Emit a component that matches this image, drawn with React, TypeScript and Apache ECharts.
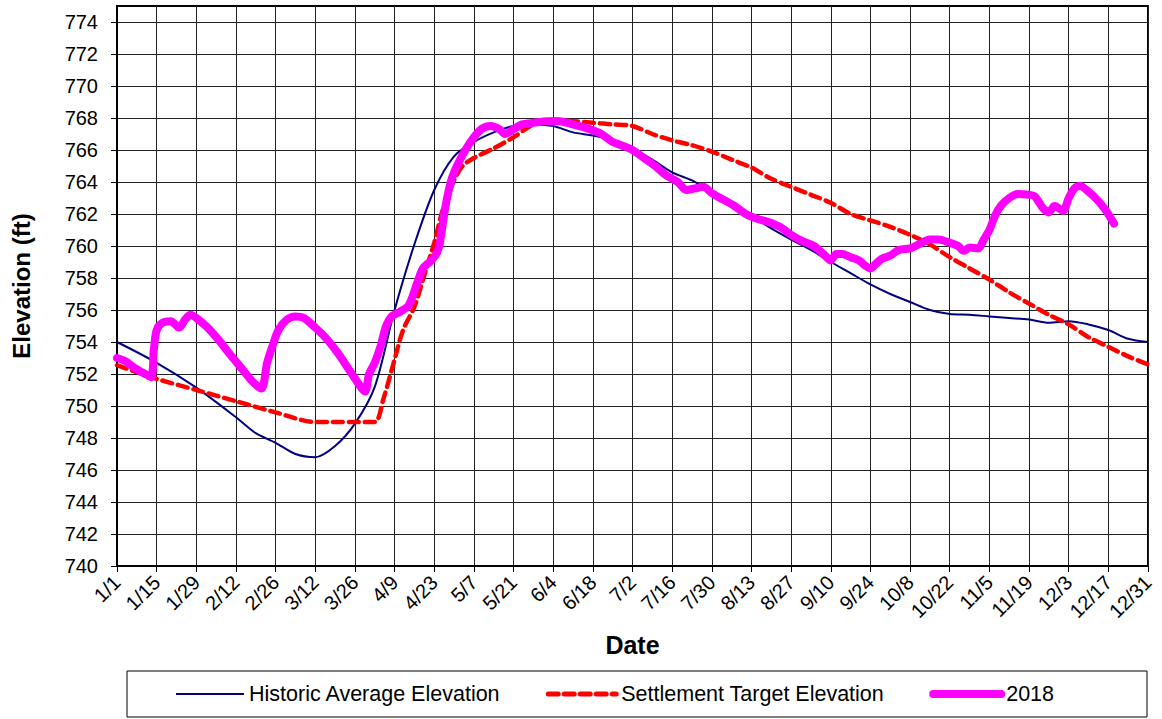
import React, { useEffect, useRef } from "react";
import * as echarts from "echarts";

const dateTickLabels = ["1/1","1/15","1/29","2/12","2/26","3/12","3/26","4/9","4/23","5/7","5/21","6/4","6/18","7/2","7/16","7/30","8/13","8/27","9/10","9/24","10/8","10/22","11/5","11/19","12/3","12/17","12/31"];
const elevationTicks = [740,742,744,746,748,750,752,754,756,758,760,762,764,766,768,770,772,774];

// day of year (0 = 1/1)
const historicDays = [0,14,28,42,49,56,63,70,77,84,91,98,105,112,119,126,133,140,147,154,161,168,175,182,189,196,203,210,217,224,231,238,245,252,259,266,273,280,287,294,301,308,315,322,329,336,343,350,357,364];
const historicValues = [754.0,752.7,751.15,749.3,748.3,747.7,747.0,746.8,747.5,748.9,751.2,756.0,760.1,763.5,765.6,766.5,767.1,767.5,767.6,767.5,767.1,766.9,766.6,766.1,765.4,764.6,764.1,763.4,762.7,761.9,761.1,760.4,759.75,759.0,758.3,757.6,757.0,756.5,756.0,755.75,755.7,755.6,755.5,755.4,755.2,755.3,755.1,754.75,754.2,754.0];

const targetDays = [0,14,28,42,56,70,77,84,91,94,98,101,105,108,112,115,119,122,126,133,140,147,154,161,168,175,182,189,196,203,210,217,224,231,238,245,252,259,266,273,280,287,294,301,308,315,322,329,336,343,350,357,364];
const targetValues = [752.55,751.7,751.0,750.3,749.6,749.0,749.0,749.0,749.0,750.4,752.9,754.75,756.2,757.9,760.2,762.25,764.1,765.0,765.5,766.1,766.8,767.6,767.9,767.8,767.7,767.6,767.5,767.0,766.6,766.3,765.9,765.4,764.9,764.2,763.7,763.2,762.7,762.0,761.6,761.2,760.7,760.1,759.3,758.6,757.9,757.1,756.4,755.7,755.1,754.3,753.7,753.1,752.6];

const y2018Days = [0,3,6,9,12,13,14,16,19,22,24,26,28,32,36,40,44,48,51,53,55,57,60,63,66,70,74,78,82,86,87.6,89,91,93,95,97,100,103,106,108,111,113,114,116,118,120,123,126,129,132,135,137,140,143,147,152,156,161,166,171,175,178,182,186,190,194,198,201,204,207,210,214,218,222,226,230,234,238,242,246,250,252,254,256,259,262,264,266,268,270,273,276,280,283,287,290,294,297,299,301,304,306,308,310,312,315,318,322,324,327,329,331,334,336,338,340,343,346,349,352];
const y2018Values = [753.0,752.8,752.4,752.1,751.8,753.5,754.75,755.2,755.3,754.9,755.4,755.7,755.5,754.9,754.1,753.2,752.35,751.5,751.1,752.7,753.8,754.75,755.4,755.6,755.5,754.9,754.2,753.3,752.25,751.2,750.9,752.0,752.7,753.7,755.0,755.6,755.9,756.3,757.7,758.6,759.1,759.6,760.2,762.5,764.1,765.0,766.0,766.8,767.35,767.5,767.3,767.0,767.3,767.6,767.7,767.8,767.8,767.6,767.35,767.0,766.5,766.3,766.0,765.5,765.0,764.4,764.0,763.5,763.6,763.7,763.3,762.9,762.5,762.0,761.7,761.5,761.2,760.7,760.3,760.0,759.4,759.1,759.5,759.5,759.3,759.1,758.8,758.6,758.9,759.2,759.4,759.75,759.85,760.1,760.4,760.4,760.2,760.0,759.7,759.9,759.85,760.4,761.0,761.9,762.5,763.0,763.25,763.2,763.1,762.35,762.1,762.5,762.2,763.0,763.6,763.75,763.4,762.9,762.25,761.4];

const seriesNames = ["Historic Average Elevation", "Settlement Target Elevation", "2018"];

const zip = (xs: number[], ys: number[]) => xs.map((x, i) => [x, ys[i]]);

export default function App() {
  const ref = useRef<HTMLDivElement>(null);
  useEffect(() => {
    if (!ref.current) return;
    const chart = echarts.init(ref.current, undefined, { renderer: "svg" });
    const font = "Arial, 'Liberation Sans', sans-serif";
    chart.setOption({
      animation: false,
      backgroundColor: "#ffffff",
      textStyle: { fontFamily: font, color: "#000" },
      grid: {
        left: 117, right: 14, top: 6, bottom: 153,
        show: true, borderColor: "#000", borderWidth: 2, backgroundColor: "transparent",
      },
      xAxis: {
        type: "value",
        min: 0, max: 364, interval: 14,
        name: "Date",
        nameLocation: "middle",
        nameGap: 66,
        nameTextStyle: { fontSize: 25, fontWeight: "bold", fontFamily: font, color: "#000" },
        axisLine: { show: true, lineStyle: { color: "#000", width: 2 } },
        axisTick: { show: true, length: 6, lineStyle: { color: "#000", width: 1 } },
        axisLabel: {
          rotate: 45, fontSize: 20, color: "#000", fontFamily: font, margin: 13,
          formatter: (v: number) => dateTickLabels[Math.round(v / 14)] ?? "",
        },
        splitLine: { show: true, lineStyle: { color: "#222", width: 1 } },
      },
      yAxis: {
        type: "value",
        min: 740, max: 775, interval: 1,
        name: "Elevation (ft)",
        nameLocation: "middle",
        nameGap: 84,
        nameTextStyle: { fontSize: 24, fontWeight: "bold", fontFamily: font, color: "#000" },
        axisLine: { show: true, lineStyle: { color: "#000", width: 2 } },
        axisTick: { show: true, length: 6, customValues: elevationTicks, lineStyle: { color: "#000", width: 1 } },
        axisLabel: { fontSize: 20, color: "#000", fontFamily: font, margin: 19, customValues: elevationTicks },
        splitLine: { show: true, lineStyle: { color: "#222", width: 1 } },
      },
      legend: {
        left: 127, top: 671,
        padding: [12, 93, 12, 48],
        itemGap: 45,
        itemWidth: 68, itemHeight: 14,
        borderColor: "#000", borderWidth: 1,
        textStyle: { fontSize: 21.5, color: "#000", fontFamily: font },
        data: [
          { name: seriesNames[0], lineStyle: { width: 2 }, itemStyle: { opacity: 0 } },
          { name: seriesNames[1], lineStyle: { width: 5 }, itemStyle: { opacity: 0 } },
          { name: seriesNames[2], lineStyle: { width: 8 }, itemStyle: { opacity: 0 } },
        ],
      },
      series: [
        {
          name: seriesNames[0], type: "line", data: zip(historicDays, historicValues),
          symbol: "none", smooth: 0.3,
          lineStyle: { color: "#000080", width: 2 }, itemStyle: { color: "#000080" },
        },
        {
          name: seriesNames[1], type: "line", data: zip(targetDays, targetValues),
          symbol: "none", smooth: 0.3,
          lineStyle: { color: "#ff0000", width: 4.5, type: [10, 6], cap: "round" }, itemStyle: { color: "#ff0000" },
        },
        {
          name: seriesNames[2], type: "line", data: zip(y2018Days, y2018Values),
          symbol: "none", smooth: 0.3,
          lineStyle: { color: "#ff00ff", width: 8, cap: "round", join: "round" }, itemStyle: { color: "#ff00ff" },
        },
      ],
    });
    return () => chart.dispose();
  }, []);
  return <div ref={ref} style={{ width: 1162, height: 719, position: "absolute", left: 0, top: 0 }} />;
}
